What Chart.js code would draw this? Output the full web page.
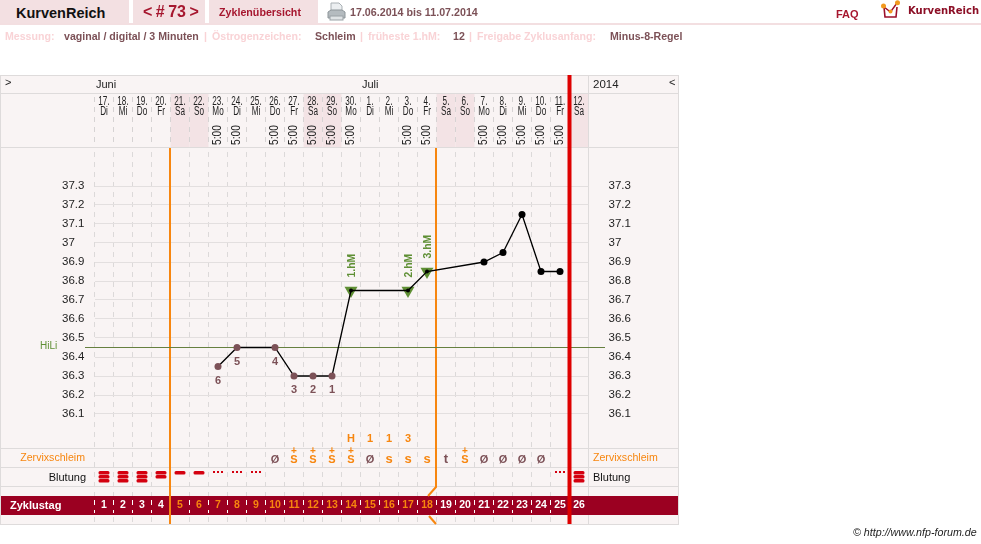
<!DOCTYPE html>
<html lang="de">
<head>
<meta charset="utf-8">
<title>KurvenReich</title>
<script src="https://cdn.jsdelivr.net/npm/chart.js@4"></script>
<style>
  html, body { margin: 0; padding: 0; background: #fff; overflow: hidden; }
  body { width: 981px; height: 544px; position: relative; font-family: "Liberation Sans", Arial, sans-serif; }
  canvas { position: absolute; left: 0; top: 0; }
  .tab { position: absolute; top: 0; height: 23px; background: #f3e0e2; }
  .rule { position: absolute; left: 0; top: 23px; width: 981px; height: 2px; background: #f3dfe1; }
  .t { position: absolute; white-space: nowrap; font-weight: bold; line-height: 14px; }
  .pale { color: #f9d3d6; font-size: 10.600px; top: 29px; }
  .val { color: #7c5157; font-size: 10.600px; top: 29px; }
</style>
</head>
<body>
<canvas id="cycle-chart" width="981" height="544"></canvas>

<div class="tab" style="left:0;width:129px"></div>
<div class="tab" style="left:133px;width:72px"></div>
<div class="tab" style="left:209px;width:109px"></div>
<div class="rule"></div>

<span class="t" style="left:16px;top:6px;font-size:14.500px;color:#111">KurvenReich</span>
<span class="t" style="left:143px;top:5px;font-size:16px;color:#a6172f;word-spacing:-1px">&lt; # 73 &gt;</span>
<span class="t" style="left:219px;top:5px;font-size:10.700px;color:#a6172f">Zyklenübersicht</span>
<span class="t" style="left:350px;top:5px;font-size:10.700px;color:#7c5157">17.06.2014 bis 11.07.2014</span>
<span class="t" style="left:836px;top:7px;font-size:11px;color:#a6172f">FAQ</span>
<span class="t" style="left:908px;top:4px;font:bold 10px 'DejaVu Sans';line-height:14px;color:#8c0f26">KurvenReich</span>

<!-- printer icon -->
<svg style="position:absolute;left:327px;top:2px" width="19" height="20" viewBox="0 0 19 20">
  <path d="M4 1h8l3 3v7H4z" fill="#eceff1" stroke="#aab1b5"/>
  <path d="M1 10l3-2h11l3 2v6H1z" fill="#b4bbbf" stroke="#8d9599"/>
  <rect x="3" y="14" width="13" height="4" fill="#dfe3e5" stroke="#9aa1a5"/>
</svg>
<!-- logo mark -->
<svg style="position:absolute;left:880px;top:0" width="22" height="19" viewBox="0 0 22 19">
  <path d="M4 7l1 10h11l1-10" fill="#fff" stroke="#9c0f2a" stroke-width="1.6"/>
  <path d="M4 7l6.500 5L17 3" fill="none" stroke="#9c0f2a" stroke-width="1.4"/>
  <circle cx="3.500" cy="6" r="2.500" fill="#f29a1f"/>
  <circle cx="10.500" cy="11.500" r="2" fill="#f29a1f"/>
  <circle cx="17.500" cy="2.800" r="2.500" fill="#f29a1f"/>
</svg>

<span class="t pale" style="left:5px">Messung:</span>
<span class="t val" style="left:64px">vaginal / digital / 3 Minuten</span>
<span class="t pale" style="left:204px">|</span>
<span class="t pale" style="left:212px">Östrogenzeichen:</span>
<span class="t val" style="left:315px">Schleim</span>
<span class="t pale" style="left:360px">|</span>
<span class="t pale" style="left:368px">früheste 1.hM:</span>
<span class="t val" style="left:453px">12</span>
<span class="t pale" style="left:469px">|</span>
<span class="t pale" style="left:477px">Freigabe Zyklusanfang:</span>
<span class="t val" style="left:610px">Minus-8-Regel</span>

<span class="t" style="left:853px;top:525px;font-size:10.700px;font-weight:normal;font-style:italic;color:#222">© http://www.nfp-forum.de</span>

<script>
// cycle days and the calendar row above them
const cycleDays = ['1','2','3','4','5','6','7','8','9','10','11','12','13','14','15','16','17','18','19','20','21','22','23','24','25','26'];
const dates = ['17.','18.','19.','20.','21.','22.','23.','24.','25.','26.','27.','28.','29.','30.','1.','2.','3.','4.','5.','6.','7.','8.','9.','10.','11.','12.'];
const weekdays = ['Di','Mi','Do','Fr','Sa','So','Mo','Di','Mi','Do','Fr','Sa','So','Mo','Di','Mi','Do','Fr','Sa','So','Mo','Di','Mi','Do','Fr','Sa'];
const times = ['','','','','','','5:00','5:00','','5:00','5:00','5:00','5:00','5:00','','','5:00','5:00','','','5:00','5:00','5:00','5:00','5:00',''];

// temperatures, gaps are days without a measurement
const temps = [null,null,null,null,null,null,36.35,36.45,null,36.45,36.3,36.3,36.3,36.75,null,null,36.75,36.85,null,null,36.9,36.95,37.15,36.85,36.85,null];
const highMarks = [null,null,null,null,null,null,null,null,null,null,null,null,null,36.75,null,null,36.75,36.85,null,null,null,null,null,null,null,null];
const highLabels = {13: '1.hM', 16: '2.hM', 17: '3.hM'};
const lowLabels = {6: '6', 7: '5', 9: '4', 10: '3', 11: '2', 12: '1'};
const hiLi = 36.45;

const yMin = 35.9;
const yMax = 37.5;
const tickMin = 36.1;
const tickMax = 37.3;

// observation rows
const peakDays = ['','','','','','','','','','','','','','H','1','1','3','','','','','','','','',''];
const mucus = ['','','','','','','','','','ø','s+','s+','s+','s+','ø','s','s','s','t','s+','ø','ø','ø','ø','',''];
const bleeding = [3,3,3,2,1,1,0.5,0.5,0.5,0,0,0,0,0,0,0,0,0,0,0,0,0,0,0,0.5,3];

// column indexes, .5 is the edge between two days
const weekendDays = [4,5,11,12,18,19,25];
const fertileStart = 3.5;
const fertileEnd = 17.5;
const cycleEnd = 24.5;

const BROWN = '#7c5157';
const ORANGE = '#f7860f';
const RED = '#de0000';
const GREEN = '#5f8f34';
const BORDER = '#dedbdb';
const PANEL = '#f9f4f4';
const BAND = '#9b0021';
const FONT = '"Liberation Sans", Arial, sans-serif';

function hline(ctx, y, x0, x1, color) {
  ctx.fillStyle = color;
  ctx.fillRect(x0, y, x1 - x0, 1);
}

function segment(ctx, points, color, width) {
  ctx.strokeStyle = color;
  ctx.lineWidth = width;
  ctx.beginPath();
  points.forEach((p, i) => i ? ctx.lineTo(p[0], p[1]) : ctx.moveTo(p[0], p[1]));
  ctx.stroke();
}

function label(ctx, text, x, y, font, color, align) {
  ctx.font = font;
  ctx.fillStyle = color;
  ctx.textAlign = align || 'center';
  ctx.textBaseline = 'middle';
  ctx.fillText(text, x, y);
}

// the calendar header uses a squeezed face
function squeezed(ctx, text, x, y, squeeze, font, angle, align) {
  ctx.save();
  ctx.translate(x, y);
  if (angle) ctx.rotate(angle);
  ctx.scale(squeeze, 1);
  label(ctx, text, 0, 0, font, '#222', align);
  ctx.restore();
}

function drawBleeding(ctx, x, level) {
  ctx.fillStyle = '#d4000f';
  if (level === 0.5) {
    [-4, 0, 4].forEach(dx => ctx.fillRect(x + dx - 1, 471, 2, 2));
    return;
  }
  for (let i = 0; i < level; i++) {
    ctx.beginPath();
    ctx.roundRect(x - 5.5, 471 + i * 4, 11, 3.4, 1.5);
    ctx.fill();
  }
}

function drawMucus(ctx, x, sym) {
  if (sym === 'ø') {
    label(ctx, 'Ø', x, 459.5, 'bold 11px ' + FONT, BROWN);
  } else if (sym === 't') {
    label(ctx, 't', x, 459.5, 'bold 13px ' + FONT, BROWN);
  } else if (sym === 's') {
    label(ctx, 's', x, 459.5, 'bold 13px ' + FONT, ORANGE);
  } else {
    label(ctx, 'S', x, 459.5, 'bold 11px ' + FONT, ORANGE);
    label(ctx, '+', x, 451, 'bold 10px ' + FONT, ORANGE);
  }
}

// panel, rows and the cycle band behind the scales
const backdrop = {
  id: 'backdrop',
  beforeDraw(chart) {
    const {ctx, scales} = chart;
    const xs = scales.x;
    const edge = i => xs.getPixelForValue(i - 0.5);
    ctx.save();
    ctx.fillStyle = PANEL;
    ctx.fillRect(1, 75, 677, 449);
    ctx.fillStyle = '#f3e3e5';
    weekendDays.forEach(i => ctx.fillRect(edge(i), 94, edge(i + 1) - edge(i), 53));

    ctx.fillStyle = BAND;
    ctx.fillRect(1, 496, 677, 19);

    [75, 93, 147, 448, 467, 486, 524].forEach(y => hline(ctx, y, 0, 679, BORDER));
    ctx.fillStyle = BORDER;
    ctx.fillRect(0, 75, 1, 450);
    ctx.fillRect(678, 75, 1, 450);
    ctx.fillRect(588, 75, 1, 421);
    ctx.fillRect(588, 515, 1, 9);

    // dashed day separators
    ctx.setLineDash([5, 5]);
    for (let i = 0; i < cycleDays.length; i++) {
      const x = Math.floor(edge(i)) + 0.5;
      segment(ctx, [[x, 97], [x, 147]], '#d6d3d3', 1);
      segment(ctx, [[x, 152], [x, 496]], '#dcd9d9', 1);
      segment(ctx, [[x, 500], [x, 513]], '#ffffff', 1);
      segment(ctx, [[x, 517], [x, 523]], '#dcd9d9', 1);
    }
    ctx.setLineDash([]);

    // row captions and month headings
    label(ctx, '>', 5, 83, '11px ' + FONT, '#222', 'left');
    label(ctx, 'Juni', 96, 85, '11px ' + FONT, '#222', 'left');
    label(ctx, 'Juli', 362, 85, '11px ' + FONT, '#222', 'left');
    label(ctx, '2014', 593, 85, '11.5px ' + FONT, '#222', 'left');
    label(ctx, '<', 669, 83, '11px ' + FONT, '#222', 'left');
    label(ctx, 'Zervixschleim', 85, 458, '10.6px ' + FONT, ORANGE, 'right');
    label(ctx, 'Zervixschleim', 593, 458, '10.6px ' + FONT, ORANGE, 'left');
    label(ctx, 'Blutung', 86, 478, '11px ' + FONT, '#111', 'right');
    label(ctx, 'Blutung', 593, 478, '11px ' + FONT, '#111', 'left');
    label(ctx, 'Zyklustag', 10, 506, 'bold 11px ' + FONT, '#fff', 'left');
    ctx.restore();
  }
};

// fertile window, cycle end, observations and point captions
const annotations = {
  id: 'annotations',
  beforeDatasetsDraw(chart) {
    const {ctx, scales} = chart;
    const xs = scales.x;
    const ys = scales.y;
    ctx.save();
    const startX = xs.getPixelForValue(fertileStart) - 0.5;
    const endX = xs.getPixelForValue(fertileEnd) - 0.5;
    segment(ctx, [[startX, 148], [startX, 524]], ORANGE, 2);
    segment(ctx, [[endX, 148], [endX, 487], [endX - 8, 496]], ORANGE, 2);
    segment(ctx, [[endX - 7, 516], [endX, 524]], ORANGE, 2);

    const hy = Math.round(ys.getPixelForValue(hiLi)) + 0.5;
    segment(ctx, [[85, hy], [605, hy]], '#66803f', 1);
    label(ctx, 'HiLi', 40, hy - 1, '10px ' + FONT, GREEN, 'left');

    cycleDays.forEach((d, i) => {
      const x = xs.getPixelForValue(i);
      if (peakDays[i]) label(ctx, peakDays[i], x, 439, 'bold 11px ' + FONT, ORANGE);
      if (mucus[i]) drawMucus(ctx, x, mucus[i]);
      if (bleeding[i]) drawBleeding(ctx, x, bleeding[i]);
      squeezed(ctx, dates[i], x, 102, 0.68, '12px ' + FONT);
      squeezed(ctx, weekdays[i], x, 112, 0.68, '12px ' + FONT);
      if (times[i]) squeezed(ctx, times[i], x, 145, 0.85, '12px ' + FONT, -Math.PI / 2, 'left');
    });

    const endLine = xs.getPixelForValue(cycleEnd);
    segment(ctx, [[endLine, 75], [endLine, 524]], RED, 4);
    ctx.restore();
  },
  afterDatasetsDraw(chart) {
    const {ctx} = chart;
    const pts = chart.getDatasetMeta(0).data;
    ctx.save();
    Object.keys(lowLabels).forEach(i => {
      label(ctx, lowLabels[i], pts[i].x, pts[i].y + 14, 'bold 11px ' + FONT, BROWN);
    });
    Object.keys(highLabels).forEach(i => {
      ctx.save();
      ctx.translate(pts[i].x + 0.5, pts[i].y - 13);
      ctx.rotate(-Math.PI / 2);
      ctx.scale(0.9, 1);
      label(ctx, highLabels[i], 0, 0, 'bold 11.5px ' + FONT, GREEN, 'left');
      ctx.restore();
    });
    ctx.restore();
  }
};

function keepPrintedTicks(scale) {
  scale.ticks = scale.ticks.filter(t => t.value > tickMin - 0.01 && t.value < tickMax + 0.01);
}

const printedTick = v => String(+Number(v).toFixed(1));

new Chart(document.getElementById('cycle-chart').getContext('2d'), {
  type: 'line',
  data: {
    labels: cycleDays,
    datasets: [
      {
        data: temps,
        spanGaps: true,
        borderColor: '#000',
        borderWidth: 1.3,
        tension: 0,
        pointRadius: temps.map((t, i) => highMarks[i] ? 2 : 3.5),
        pointBackgroundColor: temps.map((t, i) => i < 13 ? BROWN : '#000'),
        pointBorderWidth: 0
      },
      {
        data: highMarks,
        showLine: false,
        pointStyle: 'triangle',
        rotation: 180,
        pointRadius: 7.5,
        pointBackgroundColor: GREEN,
        pointBorderWidth: 0
      }
    ]
  },
  options: {
    responsive: false,
    animation: false,
    layout: {padding: {left: 62, right: 332.5, top: 148, bottom: 22}},
    plugins: {legend: {display: false}, tooltip: {enabled: false}},
    scales: {
      x: {
        type: 'category',
        offset: true,
        grid: {display: false, drawTicks: false},
        border: {display: false},
        afterFit(s) { s.height = 70; },
        ticks: {
          autoSkip: false,
          maxRotation: 0,
          padding: 47,
          font: {family: FONT, size: 10.5, weight: 'bold'},
          color: c => (c.index >= 4 && c.index < 18) ? ORANGE : '#fff'
        }
      },
      y: {
        min: yMin,
        max: yMax,
        position: 'left',
        afterBuildTicks: keepPrintedTicks,
        afterFit(s) { s.width = 32.5; },
        grid: {color: '#e3dfdf', drawTicks: false},
        border: {display: false},
        ticks: {
          stepSize: 0.1,
          autoSkip: false,
          crossAlign: 'far',
          padding: 10,
          font: {family: FONT, size: 11.5},
          color: '#222',
          callback: printedTick
        }
      },
      yRight: {
        min: yMin,
        max: yMax,
        position: 'right',
        afterBuildTicks: keepPrintedTicks,
        afterFit(s) { s.width = 60; },
        grid: {display: false, drawTicks: false},
        border: {display: false},
        ticks: {
          stepSize: 0.1,
          autoSkip: false,
          crossAlign: 'near',
          padding: 20,
          font: {family: FONT, size: 11.5},
          color: '#222',
          callback: printedTick
        }
      }
    }
  },
  plugins: [backdrop, annotations]
});
</script>
</body>
</html>
